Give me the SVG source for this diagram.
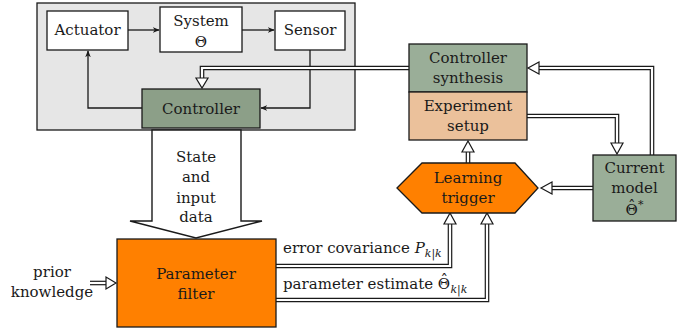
<svg xmlns="http://www.w3.org/2000/svg" width="680" height="328" viewBox="0 0 680 328">
<defs>
<style>
text{font-family:"DejaVu Serif","Liberation Serif",serif;font-size:15px;fill:#1a1a1a;text-anchor:middle}
.lbl{text-anchor:start}
.sub{font-size:11px;font-style:italic}
.box{stroke:#1a1a1a;stroke-width:1.3}
.ln{fill:none;stroke:#1a1a1a;stroke-width:1.3}
.dbo{fill:none;stroke:#1a1a1a;stroke-width:4.6}
.dbi{fill:none;stroke:#ffffff;stroke-width:2.2}
.oh{fill:#ffffff;stroke:#1a1a1a;stroke-width:1.2;stroke-linejoin:miter}
</style>
<marker id="ah" viewBox="0 0 10 10" refX="9" refY="5" markerWidth="7" markerHeight="7" orient="auto" markerUnits="userSpaceOnUse">
<path d="M0,1 L10,5 L0,9 L3,5 Z" fill="#1a1a1a"/>
</marker>
</defs>
<rect x="0" y="0" width="680" height="328" fill="#ffffff"/>

<g id="plant">
<rect class="box" x="37" y="3" width="318" height="127" fill="#e6e6e6"/>
</g>

<g id="connectors">
<path class="ln" d="M128,30 H159" marker-end="url(#ah)"/>
<path class="ln" d="M242,30 H274" marker-end="url(#ah)"/>
<path class="ln" d="M310,50 V108 H261" marker-end="url(#ah)"/>
<path class="ln" d="M142,108 H88 V51" marker-end="url(#ah)"/>
<path class="dbo" d="M409,68 H202 V78"/><path class="dbi" d="M410,68 H202 V79"/>
<polygon class="oh" points="196,78 208,78 202,88"/>
<path class="dbo" d="M652,155 V68 H539"/><path class="dbi" d="M652,156 V68 H539"/>
<polygon class="oh" points="539,62 539,74 528,68"/>
<path class="dbo" d="M527,116 H617 V143"/><path class="dbi" d="M526,116 H617 V144"/>
<polygon class="oh" points="611,143 623,143 617,154"/>
<path class="dbo" d="M593,188 H552"/><path class="dbi" d="M594,188 H552"/>
<polygon class="oh" points="552,182 552,194 541,188"/>
<path class="dbo" d="M468,163 V152"/><path class="dbi" d="M468,164 V151"/>
<polygon class="oh" points="462,152 474,152 468,141"/>
<path class="dbo" d="M276,266 H450 V224"/><path class="dbi" d="M275,266 H450 V223"/>
<polygon class="oh" points="444,224 456,224 450,213"/>
<path class="dbo" d="M276,300 H487 V224"/><path class="dbi" d="M275,300 H487 V223"/>
<polygon class="oh" points="481,224 493,224 487,213"/>
<path class="dbo" d="M90,283 H106"/><path class="dbi" d="M89,283 H107"/>
<polygon class="oh" points="106,277 106,289 116,283"/>
<polygon points="152,130 152,221 130,221 196,238 262,221 241,221 241,130" fill="#ffffff" stroke="#1a1a1a" stroke-width="1.4" stroke-linejoin="miter"/>
</g>

<g id="actuator">
<rect class="box" x="47" y="11" width="81" height="39" fill="#ffffff"/>
<text x="87.5" y="35">Actuator</text>
</g>
<g id="system">
<rect class="box" x="160" y="7" width="82" height="45" fill="#ffffff"/>
<text x="201" y="26">System</text>
<text x="201" y="47">Θ</text>
</g>
<g id="sensor">
<rect class="box" x="275" y="11" width="70" height="39" fill="#ffffff"/>
<text x="310" y="35">Sensor</text>
</g>
<g id="controller">
<rect class="box" x="142" y="89" width="118" height="39" fill="#8c9f88"/>
<text x="201" y="114">Controller</text>
</g>
<g id="controller-synthesis">
<rect class="box" x="409" y="44" width="118" height="48" fill="#9aae98"/>
<text x="468" y="63">Controller</text>
<text x="468" y="83">synthesis</text>
</g>
<g id="experiment-setup">
<rect class="box" x="409" y="92" width="118" height="48" fill="#ebc19b"/>
<text x="468" y="111">Experiment</text>
<text x="468" y="131">setup</text>
</g>
<g id="current-model">
<rect class="box" x="593" y="155" width="83" height="66" fill="#9aae98"/>
<text x="634.5" y="173">Current</text>
<text x="634.5" y="193">model</text>
<text class="lbl" x="625.5" y="215">Θ<tspan dx="-9.7" dy="-4">ˆ</tspan><tspan font-size="11" dx="2.5" dy="-3">*</tspan></text>
</g>
<g id="learning-trigger">
<polygon class="box" points="397,188 422,163 515,163 538,188 515,213 422,213" fill="#ff8000"/>
<text x="468" y="183">Learning</text>
<text x="468" y="203">trigger</text>
</g>
<g id="parameter-filter">
<rect class="box" x="117" y="239" width="159" height="88" fill="#ff8000"/>
<text x="196" y="279">Parameter</text>
<text x="196" y="299">filter</text>
</g>

<g id="labels">
<text x="196" y="162">State</text>
<text x="196" y="182">and</text>
<text x="196" y="203">input</text>
<text x="196" y="222">data</text>
<text x="52" y="277">prior</text>
<text x="52" y="297">knowledge</text>
<text class="lbl" x="283" y="253">error covariance <tspan font-style="italic">P</tspan><tspan class="sub" dy="4">k|k</tspan></text>
<text class="lbl" x="283" y="289">parameter estimate Θ<tspan dx="-9.7" dy="-4">ˆ</tspan><tspan class="sub" dx="2.5" dy="8">k|k</tspan></text>
</g>
</svg>
